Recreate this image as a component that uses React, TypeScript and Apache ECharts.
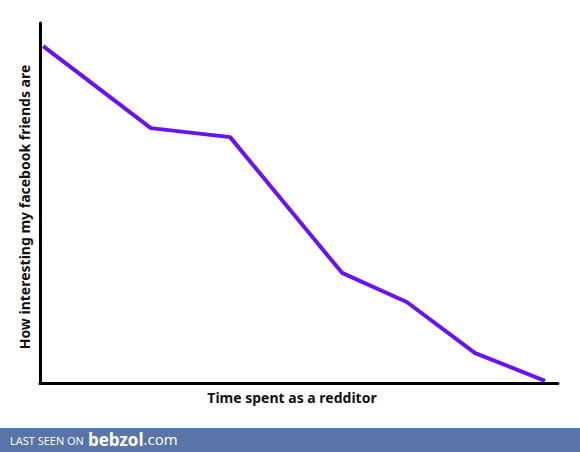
import React, { useEffect, useRef } from "react";
import * as echarts from "echarts";

const timeSpent = [0.6, 21.4, 36.7, 58.3, 70.8, 84.0, 97.5];
const interesting = [93.6, 70.8, 68.3, 30.6, 22.5, 8.3, 0.6];
const xTitle = "Time spent as a redditor";
const yTitle = "How interesting my facebook friends are";
const footerLabel = "LAST SEEN ON";
const footerBrand = "bebzol";
const footerDomain = ".com";

export default function App() {
  const ref = useRef<HTMLDivElement>(null);
  useEffect(() => {
    if (!ref.current) return;
    const chart = echarts.init(ref.current, undefined, { renderer: "svg" });
    const points = timeSpent.map((x, i) => [x, interesting[i]]);
    const axisCommon = {
      type: "value" as const,
      min: 0,
      max: 100,
      axisLine: { show: true, lineStyle: { color: "#000", width: 3 } },
      axisTick: { show: false },
      axisLabel: { show: false },
      splitLine: { show: false },
    };
    const titleFont = "bold 14px 'Noto Sans'";
    chart.setOption({
      animation: false,
      backgroundColor: "#fff",
      grid: { left: 40, right: 22, top: 23, bottom: 69 },
      xAxis: { ...axisCommon },
      yAxis: { ...axisCommon },
      series: [
        {
          type: "line",
          data: points,
          showSymbol: false,
          symbol: "none",
          lineStyle: { color: "#6a12f0", width: 4 },
        },
      ],
      graphic: [
        {
          type: "text",
          x: 292,
          y: 397,
          style: {
            text: xTitle,
            fill: "#111",
            font: titleFont,
            align: "center",
            verticalAlign: "middle",
          },
        },
        {
          type: "text",
          x: 24,
          y: 207,
          rotation: Math.PI / 2,
          style: {
            text: yTitle,
            fill: "#111",
            font: titleFont,
            align: "center",
            verticalAlign: "middle",
          },
        },
        {
          type: "rect",
          shape: { x: 0, y: 428, width: 580, height: 24 },
          style: { fill: "#5b74a8" },
        },
        {
          type: "text",
          x: 10,
          y: 440,
          style: {
            text: footerLabel,
            fill: "#fff",
            font: "11px 'Open Sans'",
            verticalAlign: "middle",
          },
        },
        {
          type: "text",
          x: 88,
          y: 439,
          style: {
            text: "{b|" + footerBrand + "}{c|" + footerDomain + "}",
            verticalAlign: "middle",
            rich: {
              b: { fill: "#fff", fontFamily: "Open Sans", fontWeight: "bold", fontSize: 17 },
              c: { fill: "#fff", fontFamily: "Open Sans", fontSize: 15 },
            },
          },
        },
      ],
    });
    return () => chart.dispose();
  }, []);
  return (
    <div
      ref={ref}
      style={{ position: "fixed", left: 0, top: 0, width: 580, height: 452 }}
    />
  );
}
